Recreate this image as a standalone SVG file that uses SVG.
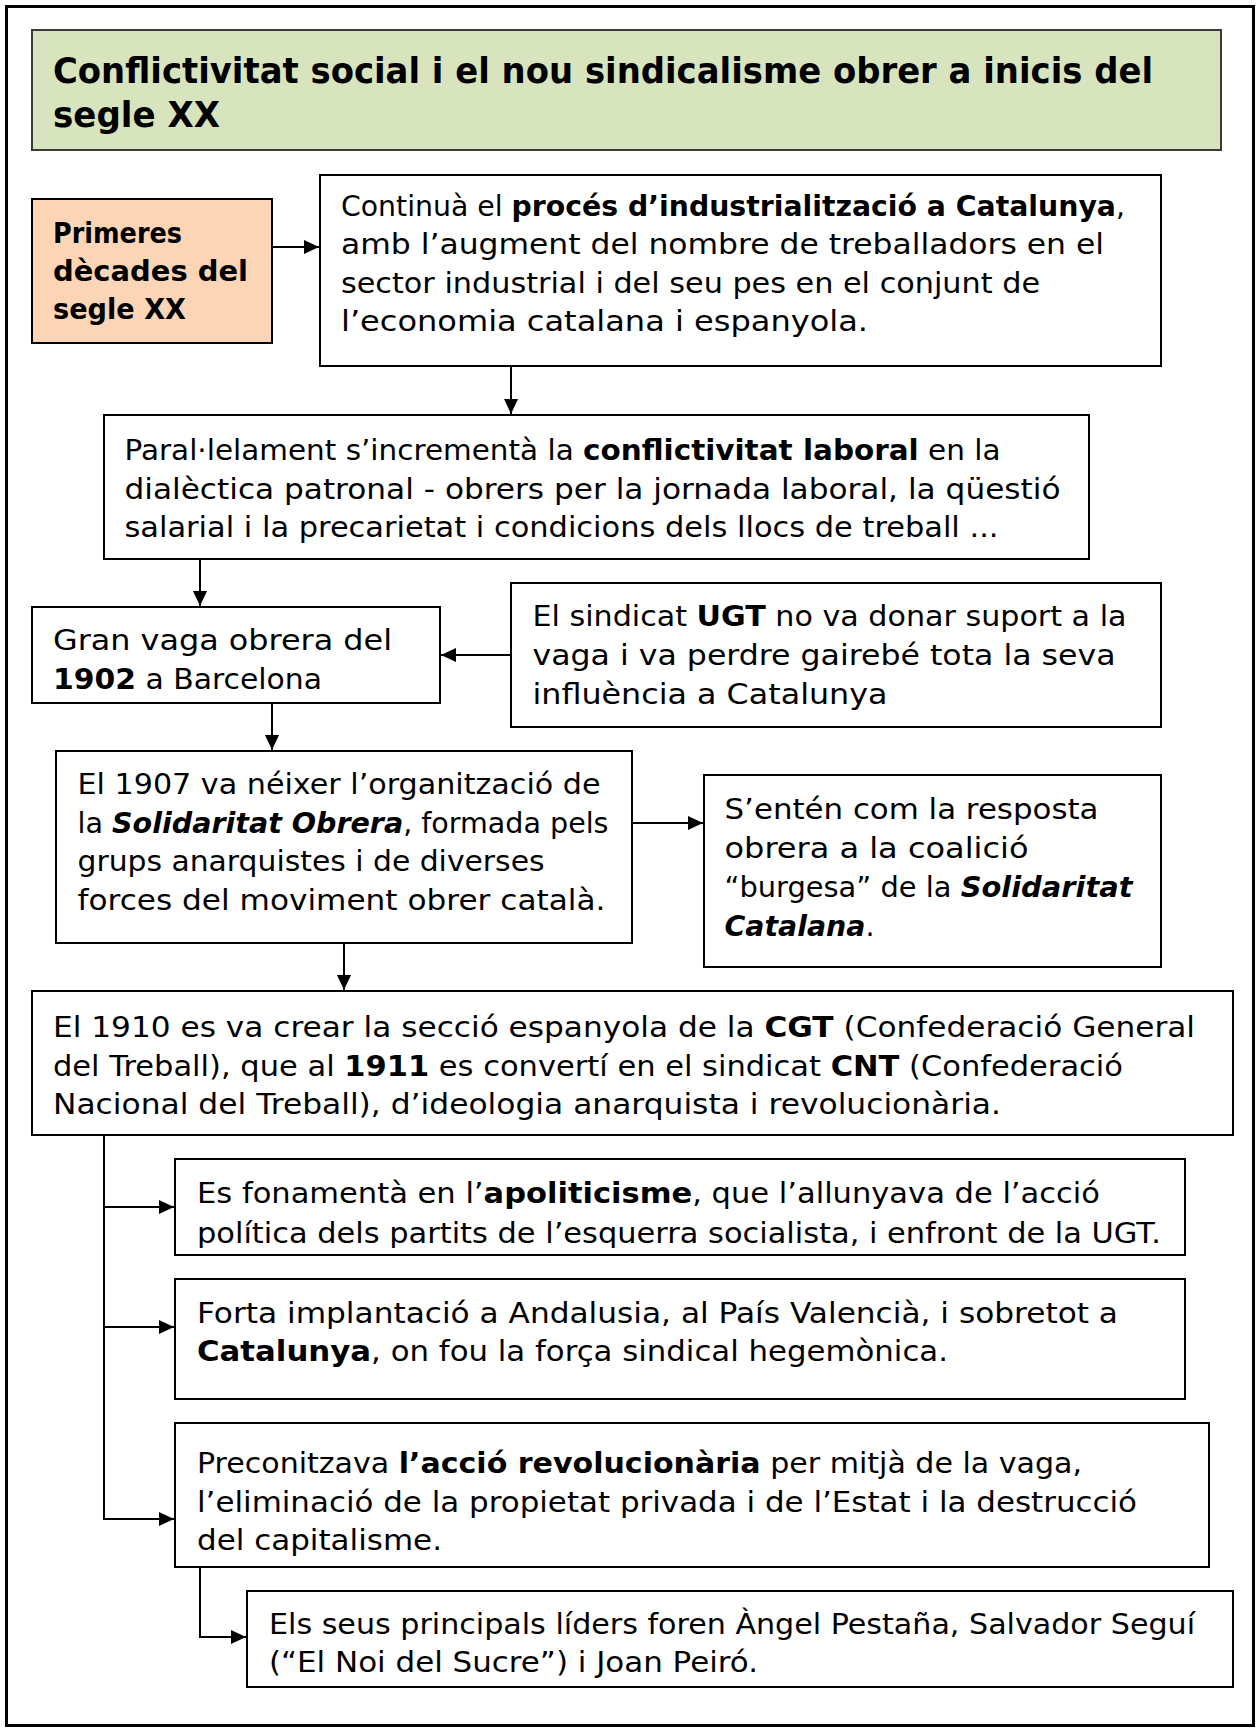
<svg xmlns="http://www.w3.org/2000/svg" width="1258" height="1728" viewBox="0 0 1258 1728">
<style>
  .box{fill:#fff;stroke:#000;stroke-width:2}
  .t{font-family:"DejaVu Sans","Liberation Sans",sans-serif;font-size:28px;fill:#000}
  .b{font-weight:bold}
  .bi{font-weight:bold;font-style:italic}
  .title{font-family:"DejaVu Sans","Liberation Sans",sans-serif;font-size:36px;font-weight:bold;fill:#000}
  .or{font-family:"DejaVu Sans","Liberation Sans",sans-serif;font-size:29px;font-weight:bold;fill:#000}
  .conn{fill:none;stroke:#000;stroke-width:2}
</style>
<defs>
  <marker id="arr" markerUnits="userSpaceOnUse" markerWidth="15" markerHeight="14" refX="15" refY="7" orient="auto">
    <path d="M0,0 L15,7 L0,14 z" fill="#000"/>
  </marker>
  <clipPath id="clipApol"><rect x="176" y="1160" width="1008" height="88"/></clipPath>
</defs>
<rect x="0" y="0" width="1258" height="1728" fill="#fff"/>
<rect x="6.5" y="6.5" width="1247" height="1719" fill="none" stroke="#000" stroke-width="3"/>

<g id="title">
  <rect x="32" y="30" width="1189" height="120" fill="#d7e4bd" stroke="#3a3a3a" stroke-width="2"/>
  <text class="title" x="53" y="83" textLength="1100" lengthAdjust="spacingAndGlyphs">Conflictivitat social i el nou sindicalisme obrer a inicis del</text>
  <text class="title" x="53" y="127" textLength="167" lengthAdjust="spacingAndGlyphs">segle XX</text>
</g>

<g id="node-primeres">
  <rect x="32" y="199" width="240" height="144" fill="#fbd5b5" stroke="#000" stroke-width="2"/>
  <text class="or" x="53" y="243" textLength="129" lengthAdjust="spacingAndGlyphs">Primeres</text>
  <text class="or" x="53" y="281" textLength="195" lengthAdjust="spacingAndGlyphs">dècades del</text>
  <text class="or" x="53" y="319" textLength="133" lengthAdjust="spacingAndGlyphs">segle XX</text>
</g>

<g id="node-industrialitzacio">
  <rect class="box" x="320" y="175" width="841" height="191"/>
  <text class="t" x="341" y="216" textLength="784" lengthAdjust="spacingAndGlyphs">Continuà el <tspan class="b">procés d’industrialització a Catalunya</tspan>,</text>
  <text class="t" x="341" y="254" textLength="763" lengthAdjust="spacingAndGlyphs">amb l’augment del nombre de treballadors en el</text>
  <text class="t" x="341" y="293" textLength="699" lengthAdjust="spacingAndGlyphs">sector industrial i del seu pes en el conjunt de</text>
  <text class="t" x="341" y="331" textLength="527" lengthAdjust="spacingAndGlyphs">l’economia catalana i espanyola.</text>
</g>

<g id="node-conflictivitat">
  <rect class="box" x="104" y="415" width="985" height="144"/>
  <text class="t" x="124.5" y="460" textLength="876" lengthAdjust="spacingAndGlyphs">Paral·lelament s’incrementà la <tspan class="b">conflictivitat laboral</tspan> en la</text>
  <text class="t" x="124.5" y="498.5" textLength="936" lengthAdjust="spacingAndGlyphs">dialèctica patronal - obrers per la jornada laboral, la qüestió</text>
  <text class="t" x="124.5" y="537" textLength="874" lengthAdjust="spacingAndGlyphs">salarial i la precarietat i condicions dels llocs de treball ...</text>
</g>

<g id="node-vaga1902">
  <rect class="box" x="32" y="607" width="408" height="96"/>
  <text class="t" x="53" y="650" textLength="339" lengthAdjust="spacingAndGlyphs">Gran vaga obrera del</text>
  <text class="t" x="53" y="689" textLength="269" lengthAdjust="spacingAndGlyphs"><tspan class="b">1902</tspan> a Barcelona</text>
</g>

<g id="node-ugt">
  <rect class="box" x="511" y="583" width="650" height="144"/>
  <text class="t" x="532.5" y="626" textLength="594" lengthAdjust="spacingAndGlyphs">El sindicat <tspan class="b">UGT</tspan> no va donar suport a la</text>
  <text class="t" x="532.5" y="665" textLength="583" lengthAdjust="spacingAndGlyphs">vaga i va perdre gairebé tota la seva</text>
  <text class="t" x="532.5" y="704" textLength="355" lengthAdjust="spacingAndGlyphs">influència a Catalunya</text>
</g>

<g id="node-solidaritat-obrera">
  <rect class="box" x="56" y="751" width="576" height="192"/>
  <text class="t" x="77.5" y="794" textLength="523" lengthAdjust="spacingAndGlyphs">El 1907 va néixer l’organització de</text>
  <text class="t" x="77.5" y="832.5" textLength="531" lengthAdjust="spacingAndGlyphs">la <tspan class="bi">Solidaritat Obrera</tspan>, formada pels</text>
  <text class="t" x="77.5" y="871" textLength="467" lengthAdjust="spacingAndGlyphs">grups anarquistes i de diverses</text>
  <text class="t" x="77.5" y="910" textLength="528" lengthAdjust="spacingAndGlyphs">forces del moviment obrer català.</text>
</g>

<g id="node-solidaritat-catalana">
  <rect class="box" x="704" y="775" width="457" height="192"/>
  <text class="t" x="724.5" y="819" textLength="374" lengthAdjust="spacingAndGlyphs">S’entén com la resposta</text>
  <text class="t" x="724.5" y="858" textLength="304" lengthAdjust="spacingAndGlyphs">obrera a la coalició</text>
  <text class="t" x="724.5" y="897" textLength="408" lengthAdjust="spacingAndGlyphs">“burgesa” de la <tspan class="bi">Solidaritat</tspan></text>
  <text class="t" x="724.5" y="936" textLength="150" lengthAdjust="spacingAndGlyphs"><tspan class="bi">Catalana</tspan>.</text>
</g>

<g id="node-cnt">
  <rect class="box" x="32" y="991" width="1201" height="144"/>
  <text class="t" x="53" y="1037" textLength="1142" lengthAdjust="spacingAndGlyphs">El 1910 es va crear la secció espanyola de la <tspan class="b">CGT</tspan> (Confederació General</text>
  <text class="t" x="53" y="1075.5" textLength="1070" lengthAdjust="spacingAndGlyphs">del Treball), que al <tspan class="b">1911</tspan> es convertí en el sindicat <tspan class="b">CNT</tspan> (Confederació</text>
  <text class="t" x="53" y="1114" textLength="948" lengthAdjust="spacingAndGlyphs">Nacional del Treball), d’ideologia anarquista i revolucionària.</text>
</g>

<g id="node-apoliticisme">
  <rect class="box" x="175" y="1159" width="1010" height="96"/>
  <g clip-path="url(#clipApol)">
    <text class="t" x="197" y="1203" textLength="903" lengthAdjust="spacingAndGlyphs">Es fonamentà en l’<tspan class="b">apoliticisme</tspan>, que l’allunyava de l’acció</text>
    <text class="t" x="197" y="1243" textLength="964" lengthAdjust="spacingAndGlyphs">política dels partits de l’esquerra socialista, i enfront de la UGT.</text>
  </g>
</g>

<g id="node-implantacio">
  <rect class="box" x="175" y="1279" width="1010" height="120"/>
  <text class="t" x="197" y="1323" textLength="921" lengthAdjust="spacingAndGlyphs">Forta implantació a Andalusia, al País Valencià, i sobretot a</text>
  <text class="t" x="197" y="1361" textLength="751" lengthAdjust="spacingAndGlyphs"><tspan class="b">Catalunya</tspan>, on fou la força sindical hegemònica.</text>
</g>

<g id="node-accio-revolucionaria">
  <rect class="box" x="175" y="1423" width="1034" height="144"/>
  <text class="t" x="197" y="1473" textLength="885" lengthAdjust="spacingAndGlyphs">Preconitzava <tspan class="b">l’acció revolucionària</tspan> per mitjà de la vaga,</text>
  <text class="t" x="197" y="1511.5" textLength="940" lengthAdjust="spacingAndGlyphs">l’eliminació de la propietat privada i de l’Estat i la destrucció</text>
  <text class="t" x="197" y="1550" textLength="245" lengthAdjust="spacingAndGlyphs">del capitalisme.</text>
</g>

<g id="node-lideres">
  <rect class="box" x="247" y="1591" width="986" height="96"/>
  <text class="t" x="269" y="1634" textLength="926" lengthAdjust="spacingAndGlyphs">Els seus principals líders foren Àngel Pestaña, Salvador Seguí</text>
  <text class="t" x="269" y="1672" textLength="489" lengthAdjust="spacingAndGlyphs">(“El Noi del Sucre”) i Joan Peiró.</text>
</g>

<g id="connectors">
  <path class="conn" d="M272,247 H319" marker-end="url(#arr)"/>
  <path class="conn" d="M511,366 V414" marker-end="url(#arr)"/>
  <path class="conn" d="M200,559 V606" marker-end="url(#arr)"/>
  <path class="conn" d="M511,655 H441" marker-end="url(#arr)"/>
  <path class="conn" d="M272,703 V750" marker-end="url(#arr)"/>
  <path class="conn" d="M632,823 H703" marker-end="url(#arr)"/>
  <path class="conn" d="M344,943 V990" marker-end="url(#arr)"/>
  <path class="conn" d="M104,1135 V1327"/>
  <path class="conn" d="M104,1207 H174" marker-end="url(#arr)"/>
  <path class="conn" d="M104,1327 H174" marker-end="url(#arr)"/>
  <path class="conn" d="M104,1326 V1519 H174" marker-end="url(#arr)"/>
  <path class="conn" d="M200,1567 V1637 H246" marker-end="url(#arr)"/>
</g>
</svg>
